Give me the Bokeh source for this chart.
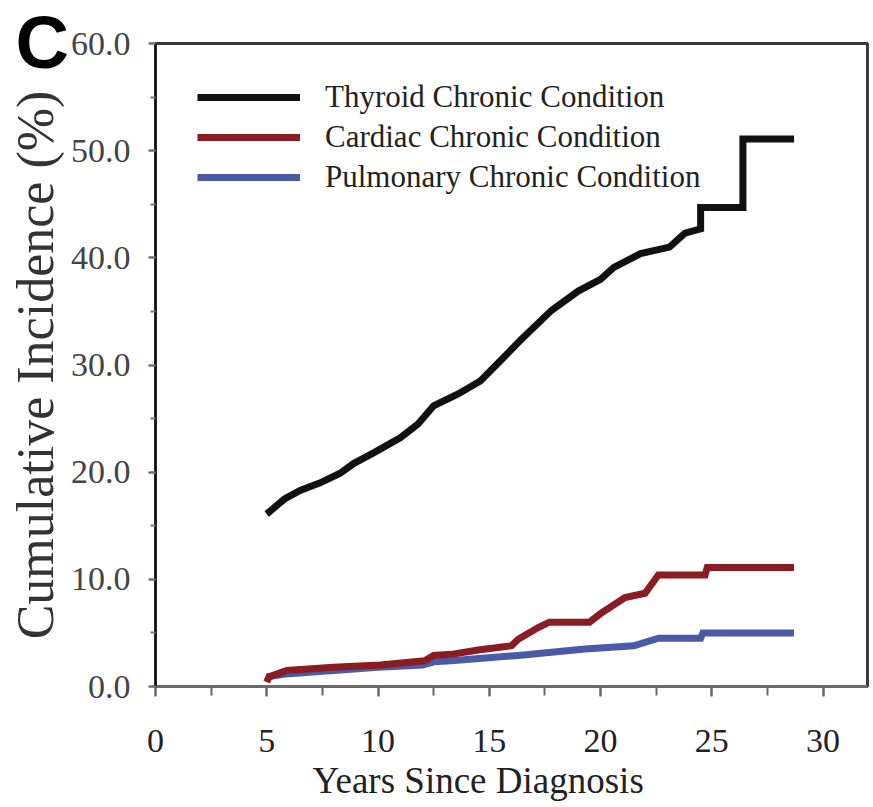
from bokeh.plotting import figure
from bokeh.models import (Range1d, SingleIntervalTicker, Legend, LegendItem, Title,
                          NumeralTickFormatter)
from bokeh.embed import file_html
from bokeh.resources import INLINE

# ---- data ----
thyroid_years = [5.0, 5.8, 6.5, 7.4, 8.3, 8.9, 9.8, 11.0, 11.8, 12.5, 13.6, 14.6, 15.5,
                 16.4, 17.8, 19.0, 20.0, 20.6, 21.8, 23.1, 23.8, 24.5, 24.5, 26.4, 26.4, 28.7]
thyroid_pct = [16.1, 17.5, 18.3, 19.0, 19.9, 20.8, 21.8, 23.2, 24.5, 26.2, 27.3, 28.5, 30.4,
               32.3, 35.1, 36.9, 38.0, 39.1, 40.4, 41.0, 42.3, 42.7, 44.7, 44.7, 51.1, 51.1]

cardiac_years = [5.0, 5.1, 5.9, 8.0, 10.1, 12.1, 12.5, 13.3, 14.5, 16.0, 16.3, 17.2, 17.7,
                 19.5, 20.0, 21.1, 22.0, 22.6, 24.7, 24.8, 28.7]
cardiac_pct = [0.4, 0.9, 1.5, 1.8, 2.0, 2.4, 2.9, 3.0, 3.4, 3.8, 4.4, 5.5, 6.0,
               6.0, 6.8, 8.3, 8.7, 10.4, 10.4, 11.1, 11.1]

pulmonary_years = [5.0, 6.0, 8.0, 10.0, 12.0, 12.5, 13.3, 16.3, 19.3, 21.5, 22.6, 24.5, 24.6, 28.7]
pulmonary_pct = [0.9, 1.2, 1.5, 1.8, 2.0, 2.3, 2.4, 2.9, 3.5, 3.8, 4.5, 4.5, 5.0, 5.0]

series_names = ["Thyroid Chronic Condition", "Cardiac Chronic Condition", "Pulmonary Chronic Condition"]
series_colors = ["#111111", "#8a1c24", "#4a5aa6"]

x_ticks_interval = 5
y_ticks_interval = 10

SERIF = "Liberation Serif"

p = figure(width=873, height=807, output_backend="svg", toolbar_location=None,
           x_range=Range1d(0, 32), y_range=Range1d(0, 60),
           min_border_left=155, min_border_right=6, min_border_top=43, min_border_bottom=121)
p.grid.visible = False
p.background_fill_color = "white"
p.border_fill_color = "white"
p.outline_line_color = "#3a3a3a"
p.outline_line_width = 3

# axes
xa = p.xaxis[0]
xa.ticker = SingleIntervalTicker(interval=x_ticks_interval, num_minor_ticks=2)
xa.axis_line_color = "#6a6a6a"
xa.axis_line_width = 3
xa.major_tick_line_color = "#666666"
xa.minor_tick_line_color = "#666666"
xa.major_tick_line_width = 2
xa.minor_tick_line_width = 2
xa.major_tick_out = 10
xa.major_tick_in = 0
xa.minor_tick_out = 9
xa.minor_tick_in = 0
xa.major_label_standoff = 33
xa.major_label_text_font = SERIF
xa.major_label_text_font_size = "34px"
xa.major_label_text_color = "#222222"

ya = p.yaxis[0]
ya.ticker = SingleIntervalTicker(interval=y_ticks_interval, num_minor_ticks=2)
ya.formatter = NumeralTickFormatter(format="0.0")
ya.axis_line_color = "#111111"
ya.axis_line_width = 2
ya.major_tick_line_color = "#555555"
ya.minor_tick_line_color = "#777777"
ya.major_tick_line_width = 2
ya.minor_tick_line_width = 2
ya.major_tick_out = 7
ya.major_tick_in = 0
ya.minor_tick_out = 5
ya.minor_tick_in = 0
ya.major_label_standoff = 18
ya.major_label_text_font = SERIF
ya.major_label_text_font_size = "34px"
ya.major_label_text_color = "#444444"
ya.axis_label = "Cumulative Incidence (%)"
ya.axis_label_text_font = SERIF
ya.axis_label_text_font_size = "52px"
ya.axis_label_text_font_style = "normal"
ya.axis_label_text_color = "#333333"
ya.axis_label_standoff = 4

# lines (pulmonary first, then cardiac, then thyroid on top)
r_pul = p.line(pulmonary_years, pulmonary_pct, line_color=series_colors[2], line_width=7,
               line_join="miter", line_cap="butt")
r_car = p.line(cardiac_years, cardiac_pct, line_color=series_colors[1], line_width=7,
               line_join="miter", line_cap="butt")
r_thy = p.line(thyroid_years, thyroid_pct, line_color=series_colors[0], line_width=7,
               line_join="miter", line_cap="butt")

legend = Legend(items=[LegendItem(label=series_names[0], renderers=[r_thy]),
                       LegendItem(label=series_names[1], renderers=[r_car]),
                       LegendItem(label=series_names[2], renderers=[r_pul])],
                location=(42, 489), orientation="vertical",
                glyph_width=103, glyph_height=40, label_height=40, spacing=0,
                padding=0, margin=0, label_standoff=25,
                label_text_font=SERIF, label_text_font_size="31px", label_text_color="#222222",
                border_line_alpha=0, background_fill_alpha=0)
p.add_layout(legend)

# x axis title (slightly left of centre, as in the reference)
p.add_layout(Title(text="Years Since Diagnosis", align="left", offset=157,
                   vertical_align="bottom", standoff=7,
                   text_font=SERIF, text_font_size="37px", text_font_style="normal",
                   text_color="#222222"), "below")

# panel letter
p.add_layout(Title(text="C", align="left", offset=-140, vertical_align="bottom",
                   standoff=-81, text_font="Liberation Sans", text_font_style="bold",
                   text_font_size="74px", text_color="#000000"), "above")

open("out.html", "w").write(file_html(p, INLINE))
